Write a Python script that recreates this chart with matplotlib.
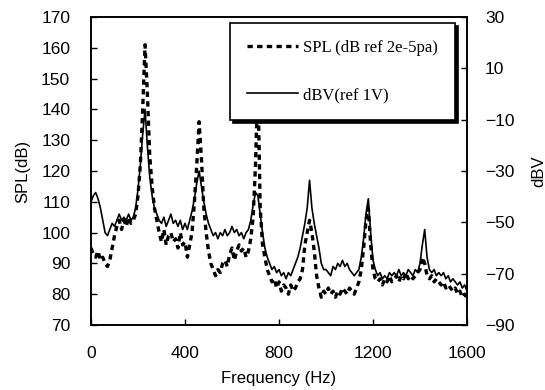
import matplotlib
matplotlib.use("Agg")
import matplotlib.pyplot as plt

freq = list(range(0, 1601, 10))

spl_db = [95, 93, 92, 94, 91, 92, 90, 89, 91, 95,
          99, 102, 104, 101, 104, 102, 105, 103, 104, 106,
          112, 122, 140, 161, 145, 125, 115, 108, 104, 100,
          97, 101, 96, 99, 100, 97, 98, 95, 100, 96,
          97, 92, 96, 100, 110, 122, 136, 124, 108, 100,
          94, 90, 88, 86, 88, 87, 90, 91, 89, 93,
          95, 91, 94, 96, 94, 95, 92, 94, 98, 105,
          122, 150, 108, 96, 92, 88, 86, 84, 85, 82,
          84, 81, 83, 82, 80, 83, 81, 82, 84, 85,
          88, 96, 100, 104, 100, 94, 86, 82, 79, 81,
          80, 82, 80, 81, 79, 81, 80, 82, 81, 80,
          82, 81, 80, 82, 84, 88, 95, 104, 108, 96,
          88, 85, 84, 85, 83, 85, 84, 86, 84, 85,
          86, 84, 86, 85, 87, 85, 86, 85, 86, 87,
          88, 92, 90, 86, 85, 86, 84, 85, 84, 83,
          84, 82, 83, 82, 81, 82, 80, 81, 79, 80,
          79]

dbv = [-42.0, -39.6, -38.4, -40.8, -44.4, -49.2, -54.0, -55.2, -52.8, -50.4,
       -51.6, -49.2, -46.8, -49.2, -48.0, -49.2, -46.8, -49.2, -48.0, -44.4,
       -37.2, -27.6, -15.6, -6.0, -20.4, -32.4, -39.6, -44.4, -46.8, -49.2,
       -50.4, -48.0, -51.6, -49.2, -46.8, -50.4, -49.2, -51.6, -49.2, -52.8,
       -50.4, -52.8, -49.2, -45.6, -40.8, -34.8, -30.0, -36.0, -42.0, -46.8,
       -50.4, -52.8, -55.2, -54.0, -56.4, -54.0, -55.2, -52.8, -55.2, -54.0,
       -51.6, -54.0, -52.8, -55.2, -54.0, -56.4, -54.0, -52.8, -49.2, -43.2,
       -38.4, -39.6, -46.8, -54.0, -60.0, -63.6, -66.0, -68.4, -67.2, -69.6,
       -68.4, -70.8, -69.6, -72.0, -69.6, -70.8, -68.4, -66.0, -63.6, -60.0,
       -55.2, -50.4, -44.4, -33.6, -44.4, -50.4, -55.2, -60.0, -66.0, -68.4,
       -68.4, -69.6, -70.8, -67.2, -68.4, -66.0, -67.2, -64.8, -67.2, -66.0,
       -68.4, -69.6, -70.8, -69.6, -68.4, -63.6, -56.4, -46.8, -40.8, -54.0,
       -64.8, -68.4, -70.8, -69.6, -72.0, -70.8, -72.0, -69.6, -70.8, -69.6,
       -70.8, -68.4, -70.8, -69.6, -70.8, -68.4, -69.6, -70.8, -68.4, -69.6,
       -66.0, -58.8, -52.8, -63.6, -68.4, -69.6, -68.4, -70.8, -69.6, -70.8,
       -69.6, -72.0, -70.8, -73.2, -72.0, -73.2, -74.4, -73.2, -75.6, -74.4,
       -76.8]

x_ticks = [0, 400, 800, 1200, 1600]
left_ticks = list(range(70, 171, 10))
right_ticks = list(range(-90, 31, 20))

plt.rcParams['font.family'] = ['Liberation Sans', 'DejaVu Sans']

fig = plt.figure(figsize=(5.45, 3.9), dpi=100)
ax = fig.add_axes([91/545, 1-325/390, 376/545, 308/390])
ax2 = ax.twinx()

l1, = ax.plot(freq, spl_db, color='black', lw=2.4, linestyle=(0, (1.6, 1.3)),
              label='SPL (dB ref 2e-5pa)')
l2, = ax2.plot(freq, dbv, color='black', lw=1.2, label='dBV(ref 1V)')

ax.set_xlim(0, 1600)
ax.set_ylim(70, 170)
ax2.set_ylim(-90, 30)
ax.set_xticks(x_ticks)
ax.set_yticks(left_ticks)
ax2.set_yticks(right_ticks)
ax2.set_yticklabels([str(t).replace('-', '\u2212') for t in right_ticks])

for a in (ax, ax2):
    a.tick_params(direction='in', length=4, width=1, labelsize=12.5, colors='black')
    for s in a.spines.values():
        s.set_linewidth(1.2)
ax.tick_params(axis='x', pad=15)
ax.tick_params(axis='y', pad=15)
ax2.tick_params(axis='y', pad=13)

ax.set_xlabel('Frequency (Hz)', fontsize=12, labelpad=7)
ax.set_ylabel('SPL(dB)', fontsize=12, labelpad=8)
ax2.set_ylabel('dBV', fontsize=12, labelpad=12)

leg = ax2.legend(handles=[l1, l2], loc='upper right',
                 bbox_to_anchor=(0.968, 0.981), borderaxespad=0,
                 fancybox=False, edgecolor='black', framealpha=1,
                 shadow={'color': 'black', 'alpha': 1},
                 prop={'family': 'Liberation Serif', 'size': 12},
                 handlelength=3.1, handletextpad=0.3, labelspacing=1.9,
                 borderpad=1.0)
leg.get_frame().set_linewidth(1.2)

fig.savefig('out.png', dpi=100)
